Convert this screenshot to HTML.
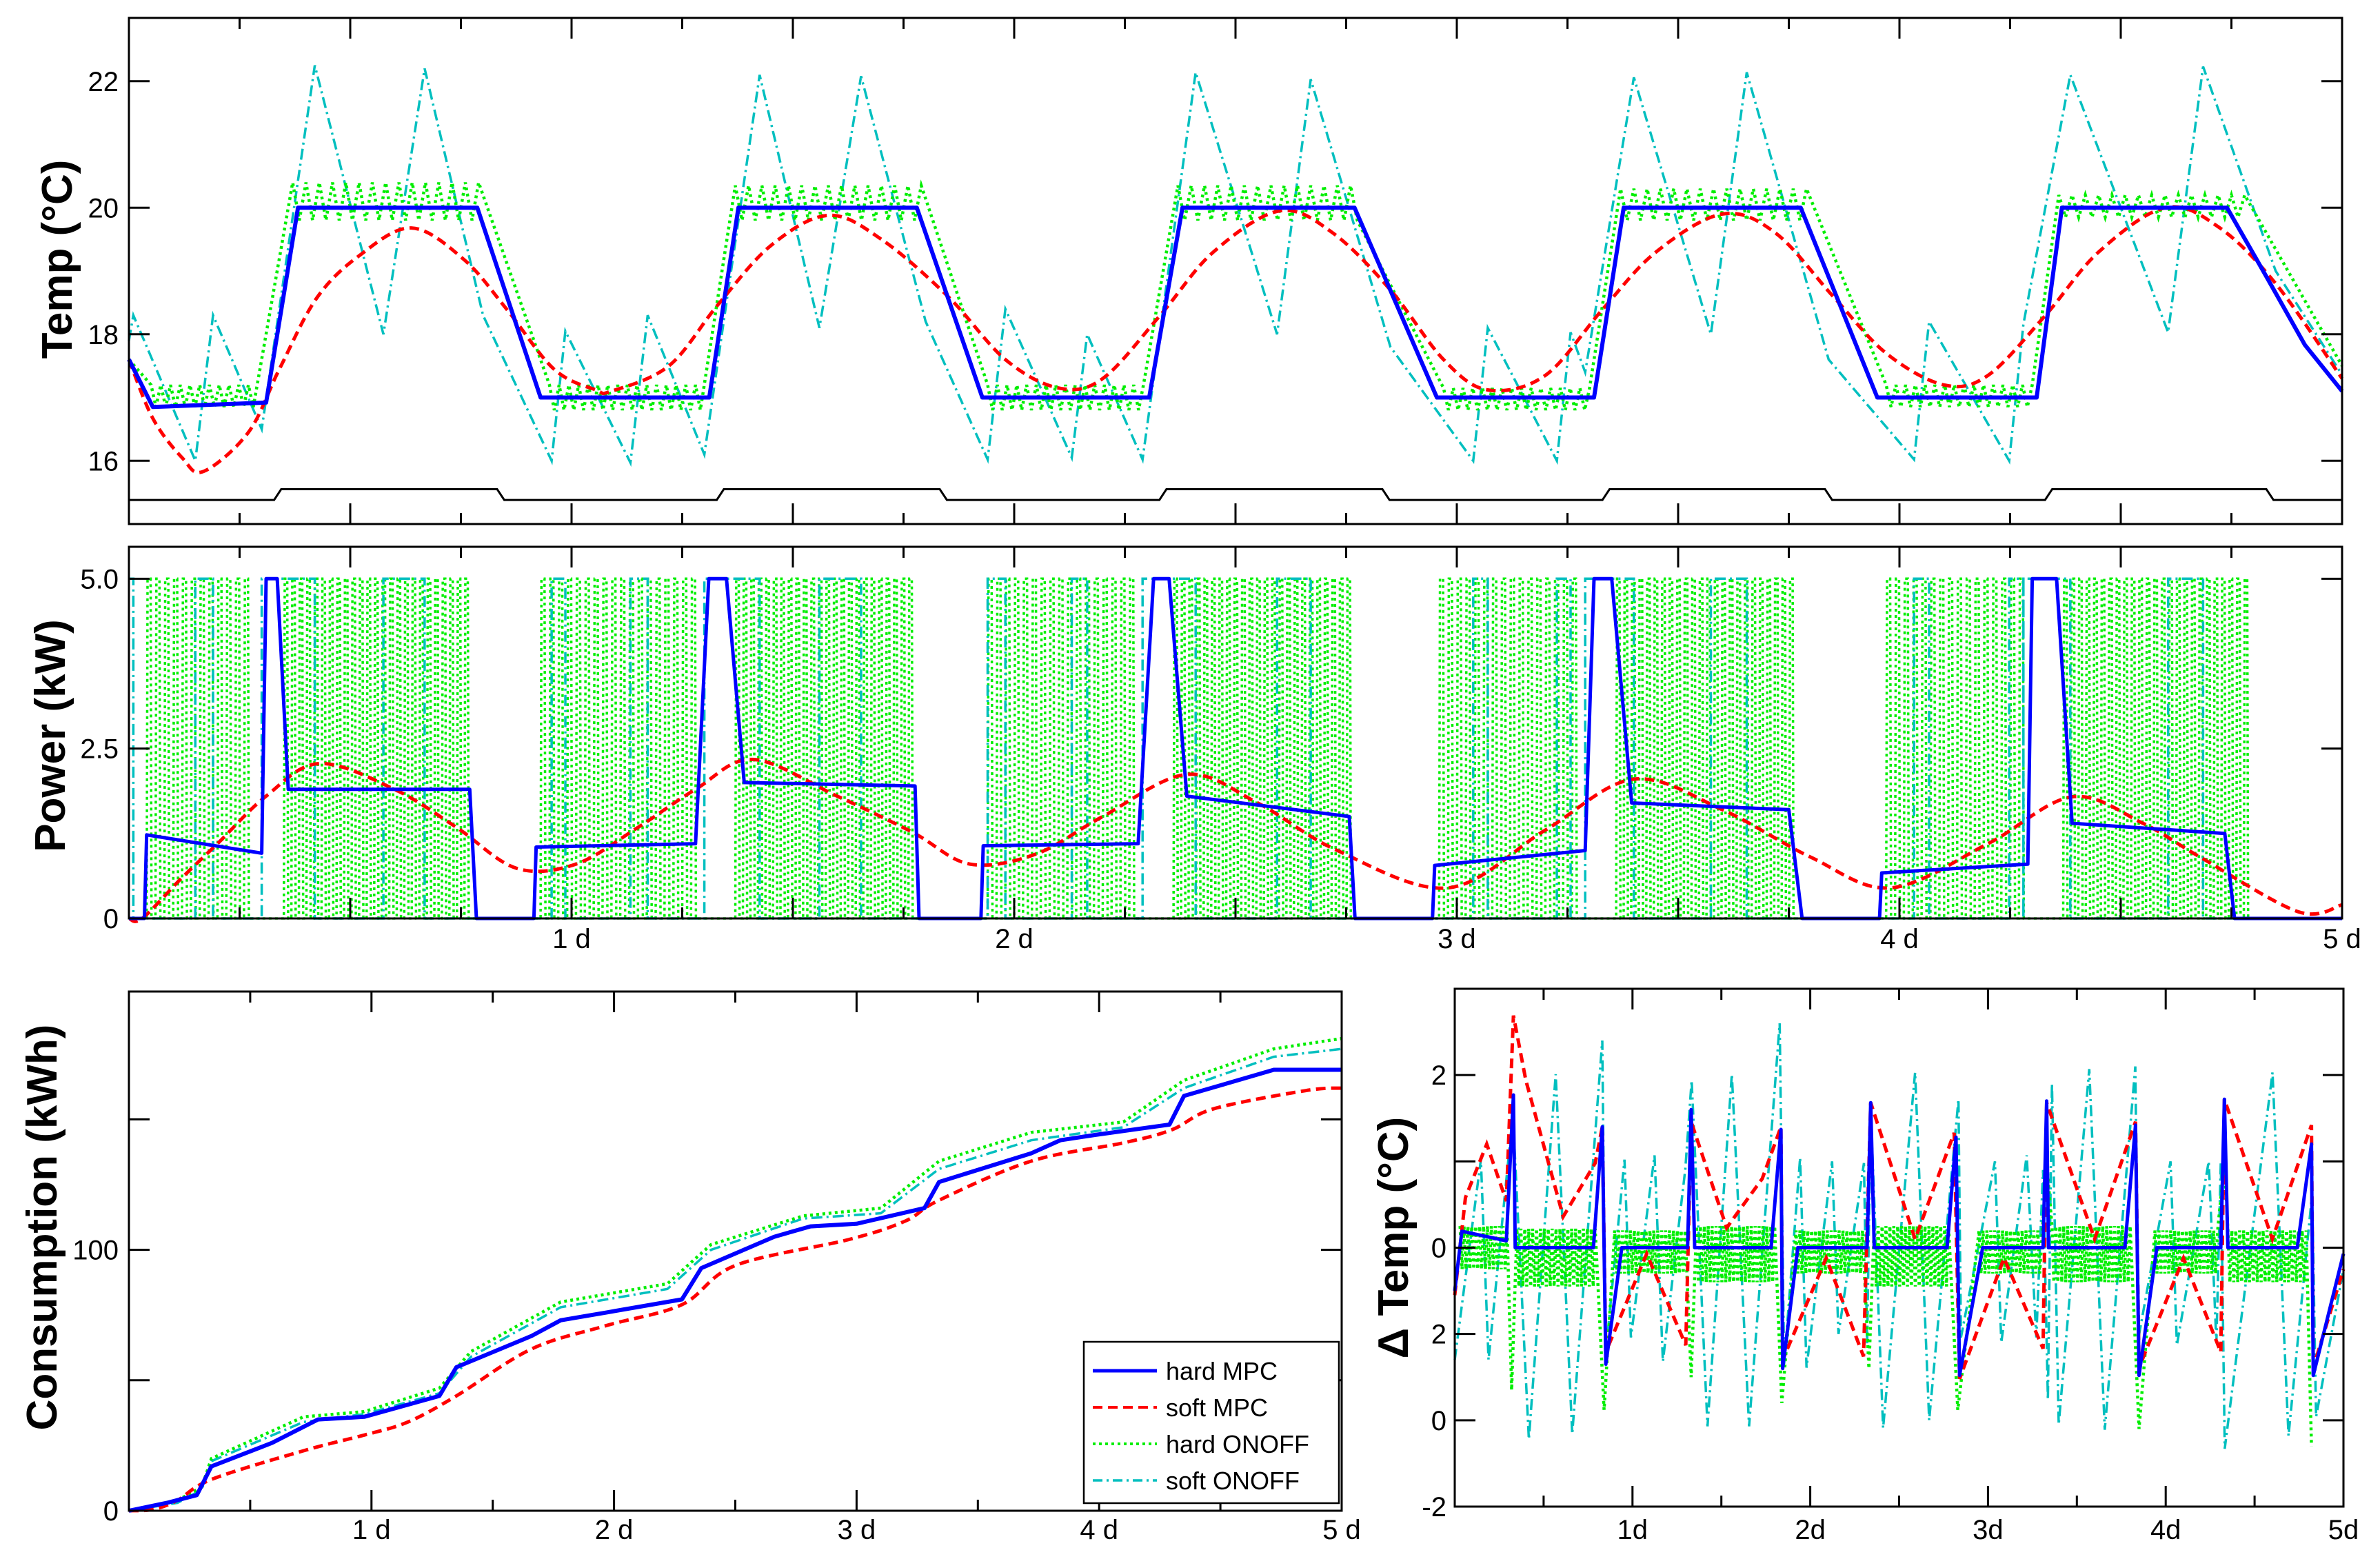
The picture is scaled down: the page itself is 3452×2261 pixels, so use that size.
<!DOCTYPE html>
<html><head><meta charset="utf-8"><style>
html,body{margin:0;padding:0;background:#fff;}
svg{display:block;font-family:"Liberation Sans",sans-serif;}
</style></head><body>
<svg id="fig" width="3452" height="2261" viewBox="0 0 3452 2261" xmlns="http://www.w3.org/2000/svg">
<rect x="0" y="0" width="3452" height="2261" fill="#fff"/>
<g id="g1"></g>
<g id="g2"></g>
<g id="g3"></g>
<g id="g4"></g>
<text transform="translate(104,376) rotate(-90)" text-anchor="middle" font-size="62" font-weight="bold">Temp (°C)</text>
<text transform="translate(94,1067) rotate(-90)" text-anchor="middle" font-size="62" font-weight="bold">Power (kW)</text>
<text transform="translate(82,1780) rotate(-90)" text-anchor="middle" font-size="62" font-weight="bold">Consumption (kWh)</text>
<text transform="translate(2042,1795) rotate(-90)" text-anchor="middle" font-size="62" font-weight="bold">Δ Temp (°C)</text>
<g>
<rect x="1572" y="1946" width="370" height="234" fill="#fff" stroke="#000" stroke-width="2.5"/>
<line x1="1585" y1="1988" x2="1678" y2="1988" stroke="#0000ff" stroke-width="5"/>
<text x="1691" y="2001" font-size="36">hard MPC</text>
<line x1="1585" y1="2041" x2="1678" y2="2041" stroke="#ff0000" stroke-width="4" stroke-dasharray="14 8"/>
<text x="1691" y="2054" font-size="36">soft MPC</text>
<line x1="1585" y1="2094" x2="1678" y2="2094" stroke="#00ee00" stroke-width="4" stroke-dasharray="4 5"/>
<text x="1691" y="2107" font-size="36">hard ONOFF</text>
<line x1="1585" y1="2147" x2="1678" y2="2147" stroke="#00bfbf" stroke-width="3.5" stroke-dasharray="14 6 3 6"/>
<text x="1691" y="2160" font-size="36">soft ONOFF</text>
</g>
</svg>
<script>
// ---------- Temperature panel data (day, °C) ----------
const tempHardMPC=[[0,17.6],[0.054,16.85],[0.31,16.92],[0.382,20],[0.787,20],[0.93,17],[1.311,17],[1.377,20],[1.78,20],[1.928,17],[2.305,17],[2.38,20],[2.769,20],[2.955,17],[3.31,17],[3.377,20],[3.777,20],[3.95,17],[4.31,17],[4.367,20],[4.74,20],[4.825,18.96],[4.916,17.83],[5,17.1]];
const tempSoftMPC=[[0,17.6],[0.054,16.67],[0.12,16.05],[0.168,15.83],[0.27,16.45],[0.34,17.45],[0.424,18.57],[0.52,19.24],[0.638,19.68],[0.757,19.18],[0.853,18.4],[0.96,17.45],[1.055,17.12],[1.09,17.1],[1.22,17.5],[1.33,18.46],[1.45,19.4],[1.58,19.88],[1.7,19.5],[1.85,18.6],[1.98,17.6],[2.1,17.15],[2.2,17.3],[2.33,18.3],[2.45,19.3],[2.6,19.95],[2.72,19.6],[2.85,18.7],[2.97,17.6],[3.07,17.12],[3.2,17.35],[3.33,18.4],[3.45,19.3],[3.6,19.9],[3.72,19.6],[3.85,18.6],[3.97,17.7],[4.1,17.2],[4.2,17.35],[4.33,18.3],[4.45,19.3],[4.6,20.0],[4.72,19.7],[4.85,18.8],[5,17.3]];
const tempSoftOnOff=[[0,17.9],[0.01,18.3],[0.15,16.0],[0.19,18.3],[0.30,16.5],[0.42,22.25],[0.575,18.0],[0.668,22.2],[0.8,18.3],[0.955,16.0],[0.986,18.05],[1.133,15.97],[1.172,18.3],[1.30,16.1],[1.425,22.1],[1.56,18.1],[1.654,22.08],[1.8,18.2],[1.94,16.02],[1.98,18.4],[2.13,16.05],[2.165,18.0],[2.29,16.02],[2.41,22.14],[2.594,18.0],[2.67,22.03],[2.85,17.8],[3.037,16.0],[3.07,18.1],[3.226,16.0],[3.257,18.03],[3.29,17.4],[3.40,22.06],[3.574,18.0],[3.655,22.14],[3.84,17.6],[4.033,16.02],[4.067,18.2],[4.248,16.0],[4.28,18.16],[4.386,22.1],[4.607,18.03],[4.686,22.23],[4.85,19.0],[5,17.36]];
// hard ONOFF temperature: [start, end, low, high, cycle period] bands
const tempHardOnOffBands=[[0.05,0.29,16.85,17.2,0.022],[0.37,0.80,19.8,20.4,0.03],[0.95,1.30,16.8,17.2,0.022],[1.37,1.79,19.8,20.35,0.03],[1.94,2.30,16.8,17.2,0.022],[2.37,2.78,19.8,20.35,0.03],[2.97,3.30,16.8,17.15,0.022],[3.37,3.80,19.8,20.3,0.03],[3.97,4.30,16.85,17.2,0.022],[4.36,4.78,19.85,20.2,0.03]];
const tempHardOnOffEnds=[[0,17.6],[5,17.5]];
const occStart=[0.336,1.336,2.336,3.337,4.337];
const occEnd=[0.84,1.84,2.84,3.84,4.837];
const occLevels=[15.38,15.55];
const tempTicks=[16,18,20,22];
// ---------- Power panel data (day, kW) ----------
const powHardMPC=[[0,0],[0.035,0],[0.04,1.23],[0.3,0.96],[0.31,5],[0.335,5],[0.36,1.9],[0.77,1.9],[0.785,0],[0.915,0],[0.92,1.05],[1.28,1.1],[1.31,5],[1.35,5],[1.39,2.0],[1.776,1.95],[1.785,0],[1.925,0],[1.93,1.07],[2.28,1.1],[2.315,5],[2.35,5],[2.39,1.8],[2.757,1.5],[2.77,0],[2.945,0],[2.95,0.78],[3.29,1.0],[3.31,5],[3.35,5],[3.395,1.7],[3.75,1.6],[3.78,0],[3.955,0],[3.96,0.67],[4.29,0.8],[4.30,5],[4.355,5],[4.39,1.4],[4.735,1.25],[4.757,0],[5,0]];
const powSoftMPC=[[0,0],[0.03,0],[0.12,0.6],[0.2,1.1],[0.31,1.8],[0.43,2.28],[0.6,1.9],[0.74,1.34],[0.875,0.74],[1.01,0.8],[1.15,1.34],[1.28,1.9],[1.41,2.34],[1.6,1.8],[1.77,1.27],[1.9,0.8],[2.05,0.95],[2.2,1.5],[2.39,2.12],[2.55,1.7],[2.73,1.0],[2.98,0.45],[3.2,1.3],[3.40,2.05],[3.6,1.6],[3.8,0.9],[3.98,0.45],[4.2,1.1],[4.39,1.79],[4.55,1.4],[4.68,0.9],[4.9,0.1],[5,0.2]];
// hard ONOFF power: [start, end, switching period]
const powHardOnOffBursts=[[0.04,0.29,0.02],[0.35,0.79,0.017],[0.93,1.29,0.02],[1.37,1.78,0.017],[1.94,2.29,0.02],[2.36,2.77,0.017],[2.96,3.29,0.02],[3.36,3.78,0.017],[3.97,4.30,0.02],[4.37,4.80,0.017]];
// soft ONOFF power on-intervals (days)
const powSoftOnStart=[0,0.15,0.30,0.575,0.955,1.133,1.30,1.56,1.94,2.13,2.29,2.594,3.037,3.226,3.29,3.574,4.033,4.248,4.28,4.607];
const powSoftOnEnd=[0.01,0.19,0.42,0.668,0.986,1.172,1.425,1.654,1.98,2.165,2.41,2.67,3.07,3.257,3.40,3.655,4.067,4.28,4.386,4.686];
const powTicks=[0,2.5,5];
const powTickLabels=["0","2.5","5.0"];
// ---------- Consumption data (day, kWh) ----------
const consHardMPC=[[0,0],[0.156,3],[0.28,6],[0.34,17],[0.59,26],[0.78,35],[0.97,36],[1.28,44],[1.35,55],[1.66,67],[1.78,73],[1.97,76],[2.28,81],[2.36,93],[2.66,105],[2.81,109],[3.0,110],[3.28,116],[3.34,126],[3.72,137],[3.84,142],[3.98,144],[4.29,148],[4.35,159],[4.72,169],[5,169]];
const consSoftMPC=[[0,0],[0.1,0.5],[0.2,4],[0.34,12],[0.72,23],[0.97,29],[1.15,34],[1.35,44],[1.66,62],[1.97,71],[2.28,79],[2.5,94],[2.97,104],[3.2,111],[3.34,119],[3.72,134],[4.1,141],[4.3,146],[4.47,154],[4.85,161],[5,162]];
const consHardOnOff=[[0,0],[0.2,4],[0.3,9],[0.34,20],[0.72,36],[0.97,38],[1.28,47],[1.41,61],[1.78,80],[2.22,87],[2.4,102],[2.78,113],[3.1,116],[3.34,134],[3.72,145],[4.1,149],[4.35,165],[4.72,177],[5,181]];
const consSoftOnOff=[[0,0],[0.2,3],[0.3,8],[0.34,19],[0.72,34],[0.97,37],[1.28,45],[1.41,59],[1.78,78],[2.22,85],[2.4,100],[2.78,112],[3.1,114],[3.34,131],[3.72,142],[4.1,147],[4.35,162],[4.72,174],[5,177]];
const consTicks=[50,100,150];
const consTickLabels=["","100",""];
// ---------- Delta temperature data (day, °C) ----------
const dHardMPC=[[0,-0.5],[0.04,0.19],[0.29,0.08],[0.33,1.77],[0.34,0],[0.78,0],[0.83,1.4],[0.85,-1.35],[0.94,0],[1.31,0],[1.33,1.6],[1.35,0],[1.78,0],[1.835,1.37],[1.845,-1.4],[1.93,0],[2.32,0],[2.34,1.68],[2.36,0],[2.77,0],[2.82,1.28],[2.84,-1.48],[2.97,0],[3.31,0],[3.33,1.7],[3.34,0],[3.77,0],[3.83,1.42],[3.85,-1.48],[3.95,0],[4.31,0],[4.33,1.72],[4.35,0],[4.74,0],[4.82,1.2],[4.83,-1.48],[5,-0.07]];
const dSoftMPC=[[0,-0.55],[0.06,0.58],[0.18,1.2],[0.29,0.54],[0.33,2.69],[0.4,1.94],[0.61,0.36],[0.79,0.98],[0.83,1.4],[0.85,-1.21],[1.08,-0.07],[1.3,-1.13],[1.33,1.46],[1.53,0.23],[1.73,0.8],[1.835,1.4],[1.845,-1.3],[2.09,-0.12],[2.3,-1.26],[2.34,1.68],[2.59,0.1],[2.81,1.33],[2.84,-1.52],[3.09,-0.12],[3.31,-1.17],[3.33,1.68],[3.6,0.1],[3.83,1.46],[3.85,-1.39],[4.1,-0.12],[4.31,-1.21],[4.33,1.72],[4.6,0.1],[4.82,1.42],[4.83,-1.39],[5,-0.25]];
const dSoftOnOff=[[0,-1.3],[0.147,1.02],[0.19,-1.3],[0.327,1.55],[0.417,-2.22],[0.568,2.01],[0.661,-2.16],[0.83,2.4],[0.848,-1.26],[0.955,1.02],[0.991,-1.04],[1.124,1.07],[1.171,-1.32],[1.297,0.91],[1.333,1.94],[1.422,-2.07],[1.559,2.01],[1.656,-2.07],[1.828,2.6],[1.853,-1.35],[1.943,1.04],[1.979,-1.39],[2.123,1.0],[2.159,-1.0],[2.302,0.98],[2.32,-1.13],[2.34,1.6],[2.41,-2.09],[2.59,2.03],[2.669,-2.0],[2.834,1.72],[2.848,-1.04],[3.039,1.0],[3.075,-1.1],[3.218,1.07],[3.272,-1.04],[3.31,0.9],[3.337,-1.76],[3.36,1.9],[3.398,-2.05],[3.57,2.07],[3.657,-2.11],[3.829,2.1],[3.847,-1.04],[4.027,1.0],[4.063,-1.13],[4.242,1.0],[4.285,-1.1],[4.31,1.0],[4.332,-2.33],[4.601,2.03],[4.691,-2.18],[4.824,0.63],[4.846,-1.96],[5,-0.25]];
// hard ONOFF deviation bands: [start, end, low, high, period]
const dHardOnOffBands=[[0.03,0.3,-0.25,0.25,0.022],[0.35,0.8,-0.45,0.22,0.022],[0.9,1.3,-0.3,0.2,0.022],[1.36,1.8,-0.4,0.25,0.022],[1.92,2.3,-0.3,0.2,0.022],[2.36,2.78,-0.45,0.25,0.022],[2.95,3.3,-0.3,0.2,0.022],[3.36,3.8,-0.4,0.25,0.022],[3.94,4.3,-0.3,0.2,0.022],[4.35,4.8,-0.4,0.2,0.022]];
const dHardOnOffSpikes=[[0.32,-1.65],[0.84,-1.88],[1.33,-1.5],[1.84,-1.8],[2.33,-1.4],[2.83,-1.88],[3.33,1.0],[3.85,-2.1],[4.33,1.0],[4.82,-2.3]];
const dTicks=[-3,-2,-1,0,1,2,3];
const dTickLabels=["-2","0","2","0","","2",""];
const dayLabelsA=["1 d","2 d","3 d","4 d","5 d"];
const dayLabelsB=["1d","2d","3d","4d","5d"];

const NS="http://www.w3.org/2000/svg";
function lin(d0,d1,r0,r1){return v=>r0+(v-d0)*(r1-r0)/(d1-d0);}
function mk(parent,tag,attrs){const e=document.createElementNS(NS,tag);for(const k in attrs)e.setAttribute(k,attrs[k]);parent.appendChild(e);return e;}
function dLin(pts,sx,sy){return pts.map((p,i)=>(i?'L':'M')+sx(p[0]).toFixed(1)+','+sy(p[1]).toFixed(1)).join('');}
function dSmooth(pts,sx,sy){const P=pts.map(p=>[sx(p[0]),sy(p[1])]);let s='M'+P[0][0].toFixed(1)+','+P[0][1].toFixed(1);
 for(let i=0;i<P.length-1;i++){const p0=P[Math.max(0,i-1)],p1=P[i],p2=P[i+1],p3=P[Math.min(P.length-1,i+2)];
 const c1=[p1[0]+(p2[0]-p0[0])/6,p1[1]+(p2[1]-p0[1])/6],c2=[p2[0]-(p3[0]-p1[0])/6,p2[1]-(p3[1]-p1[1])/6];
 s+='C'+c1.map(v=>v.toFixed(1)).join(',')+' '+c2.map(v=>v.toFixed(1)).join(',')+' '+p2[0].toFixed(1)+','+p2[1].toFixed(1);}return s;}
function bandPts(bands){const out=[];bands.forEach(b=>{let k=0;for(let t=b[0];t<=b[1]+1e-9;t+=b[4]/2){out.push([t,k%2?b[2]:b[3]]);k++;}});return out;}
const STY={
 blue:{stroke:'#0000ff','stroke-width':6,fill:'none','stroke-linejoin':'round'},
 red:{stroke:'#ff0000','stroke-width':5,fill:'none','stroke-dasharray':'14 8'},
 green:{stroke:'#00ee00','stroke-width':4.5,fill:'none','stroke-dasharray':'4 5'},
 cyan:{stroke:'#00bfbf','stroke-width':3.5,fill:'none','stroke-dasharray':'16 6 3 6'}
};
function axesBox(g,x0,y0,x1,y1,name){
 const r=mk(g,'rect',{x:x0,y:y0,width:x1-x0,height:y1-y0,fill:'none',stroke:'#000','stroke-width':3});
 
 
}
function xTicks(g,sx,y0,y1,step,longEvery){
 for(let i=1;i*step<5-1e-9;i++){const t=i*step;const L=(Math.abs(t/longEvery-Math.round(t/longEvery))<1e-6)?30:16;const x=sx(t);
  const a=mk(g,'path',{d:`M${x},${y1}V${y1-L}M${x},${y0}V${y0+L}`,stroke:'#000','stroke-width':3});
  
  }
}
function yTicks(g,sy,x0,x1,vals,labels,lx){
 vals.forEach((v,i)=>{const y=sy(v);
  const a=mk(g,'path',{d:`M${x0},${y}H${x0+30}M${x1},${y}H${x1-30}`,stroke:'#000','stroke-width':3});
  
  
  if(labels[i]){const t=mk(g,'text',{x:lx,y:y+14,'text-anchor':'end','font-size':40});t.textContent=labels[i];
  
  }
 });
}
function xLabels(g,sx,y,labels){labels.forEach((l,i)=>{const t=mk(g,'text',{x:sx(i+1),y:y,'text-anchor':'middle','font-size':40});t.textContent=l;
 
 });}
function series(g,d,sty,name){const p=mk(g,'path',Object.assign({d:d},sty));
 
 return p;}

// ---------- Panel 1: temperature ----------
(function(){const g=document.getElementById('g1');const X0=187,X1=3397,Y0=26,Y1=760;
 const sx=lin(0,5,X0,X1),sy=lin(15,23,Y1,Y0);
 const occ=[[0,occLevels[0]]];occStart.forEach((s,i)=>{occ.push([s-0.008,occLevels[0]],[s+0.008,occLevels[1]],[occEnd[i]-0.008,occLevels[1]],[occEnd[i]+0.008,occLevels[0]]);});occ.push([5,occLevels[0]]);
 series(g,dLin(occ,sx,sy),{stroke:'#000','stroke-width':3,fill:'none'},'occupancy-line');
 series(g,dLin(tempSoftOnOff,sx,sy),STY.cyan,'temp-soft-onoff-line');
 const gp=[tempHardOnOffEnds[0]].concat(bandPts(tempHardOnOffBands),[tempHardOnOffEnds[1]]);
 series(g,dLin(gp,sx,sy),STY.green,'temp-hard-onoff-line');
 series(g,dSmooth(tempSoftMPC,sx,sy),STY.red,'temp-soft-mpc-line');
 series(g,dLin(tempHardMPC,sx,sy),STY.blue,'temp-hard-mpc-line');
 axesBox(g,X0,Y0,X1,Y1,'temp-axes-frame');
 xTicks(g,sx,Y0,Y1,0.25,0.5);
 yTicks(g,sy,X0,X1,tempTicks,tempTicks.map(String),172);
})();
// ---------- Panel 2: power ----------
(function(){const g=document.getElementById('g2');const X0=187,X1=3397,Y0=793,Y1=1332;
 const sx=lin(0,5,X0,X1),sy=lin(0,5.47,Y1,Y0);
 const gp=[[0,0]];powHardOnOffBursts.forEach(b=>{for(let t=b[0];t+b[2]<=b[1]+1e-9;t+=b[2]){gp.push([t,0],[t+0.002,5],[t+b[2]*0.45,5],[t+b[2]*0.45+0.002,0]);}});gp.push([5,0]);
 series(g,dLin(gp,sx,sy),Object.assign({},STY.green,{'stroke-width':3.5}),'power-hard-onoff-line');
 const cp=[[0,5]];powSoftOnStart.forEach((s,i)=>{if(s>0)cp.push([s,0],[s,5]);cp.push([powSoftOnEnd[i],5],[powSoftOnEnd[i],0]);});cp.push([5,0]);
 series(g,dLin(cp,sx,sy),STY.cyan,'power-soft-onoff-line');
 series(g,dSmooth(powSoftMPC,sx,sy),STY.red,'power-soft-mpc-line');
 series(g,dLin(powHardMPC,sx,sy),Object.assign({},STY.blue,{'stroke-width':5}),'power-hard-mpc-line');
 axesBox(g,X0,Y0,X1,Y1,'power-axes-frame');
 xTicks(g,sx,Y0,Y1,0.25,0.5);
 yTicks(g,sy,X0,X1,powTicks,powTickLabels,172);
 xLabels(g,sx,1375,dayLabelsA);
})();
// ---------- Panel 3: consumption ----------
(function(){const g=document.getElementById('g3');const X0=187,X1=1946,Y0=1438,Y1=2191;
 const sx=lin(0,5,X0,X1),sy=lin(0,199,Y1,Y0);
 series(g,dLin(consSoftOnOff,sx,sy),STY.cyan,'consumption-soft-onoff-line');
 series(g,dLin(consHardOnOff,sx,sy),STY.green,'consumption-hard-onoff-line');
 series(g,dSmooth(consSoftMPC,sx,sy),STY.red,'consumption-soft-mpc-line');
 series(g,dLin(consHardMPC,sx,sy),STY.blue,'consumption-hard-mpc-line');
 axesBox(g,X0,Y0,X1,Y1,'consumption-axes-frame');
 xTicks(g,sx,Y0,Y1,0.5,1);
 yTicks(g,sy,X0,X1,consTicks,consTickLabels,172);
 const z=mk(g,'text',{x:172,y:Y1+14,'text-anchor':'end','font-size':40});z.textContent='0';
 
 
 xLabels(g,sx,2232,dayLabelsA);
})();
// ---------- Panel 4: delta temperature ----------
(function(){const g=document.getElementById('g4');const X0=2110,X1=3399,Y0=1434,Y1=2185;
 const sx=lin(0,5,X0,X1),sy=lin(-3,3,Y1,Y0);
 series(g,dLin(dSoftOnOff,sx,sy),STY.cyan,'delta-soft-onoff-line');
 const gp=bandPts(dHardOnOffBands).concat(dHardOnOffSpikes).sort((a,b)=>a[0]-b[0]);
 series(g,dLin(gp,sx,sy),STY.green,'delta-hard-onoff-line');
 series(g,dLin(dSoftMPC,sx,sy),STY.red,'delta-soft-mpc-line');
 series(g,dLin(dHardMPC,sx,sy),Object.assign({},STY.blue,{'stroke-width':5}),'delta-hard-mpc-line');
 axesBox(g,X0,Y0,X1,Y1,'delta-axes-frame');
 xTicks(g,sx,Y0,Y1,0.5,1);
 yTicks(g,sy,X0,X1,dTicks,dTickLabels,2098);
 xLabels(g,sx,2232,dayLabelsB);
})();
</script>
</body></html>
